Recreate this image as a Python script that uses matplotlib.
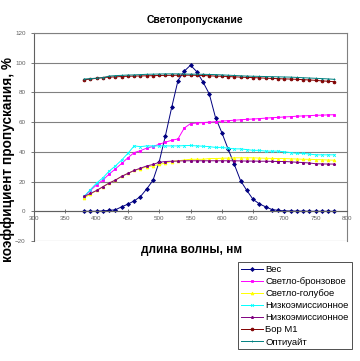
import numpy as np
import matplotlib
matplotlib.use("Agg")
import matplotlib.pyplot as plt

plt.rcParams['font.family'] = ['Liberation Sans', 'DejaVu Sans']

# длины волн
wl = np.arange(380, 790, 10)

ves = [0, 0, 0, 0.3, 0.6, 1, 3, 4.8, 7, 9.9, 15, 20.8, 33.3, 51, 70, 88, 94.3, 98.3, 94, 87,
       79, 63, 53, 42, 31.5, 20.6, 14, 8, 5, 3, 1.2, 0.6, 0.3, 0.2, 0.1, 0.1, 0, 0, 0, 0, 0]
bronze = [9.9, 14, 17.8, 21, 25, 28.5, 32.2, 36, 39.5, 40.8, 42.5, 43.6, 45.1, 46.5, 47.8, 48.7, 56, 59,
          59.4, 59.7, 60, 60.3, 60.7, 61, 61.3, 61.6, 61.9, 62.1, 62.4, 62.7, 63, 63.2, 63.5, 63.7, 64,
          64.2, 64.4, 64.6, 64.7, 64.9, 65]
blue_light = [9, 11.5, 14, 16.5, 19, 21, 23.5, 25.5, 27.5, 28.5, 30, 30.5, 31.5, 32.5, 33.5, 34, 34.5, 35,
              35, 35, 35.5, 35.5, 35.7, 35.8, 36, 36, 36, 36, 35.8, 35.7, 35.6, 35.5, 35.5, 35.3, 35.2,
              35, 35, 34.8, 34.7, 34.5, 34.4]
lowe1 = [10, 14.5, 19, 22.5, 27, 30.5, 34.5, 39, 44, 43.5, 44, 44, 44, 44, 44, 44, 44.2, 44.3,
         44, 43.8, 43.5, 43, 43, 42.5, 42, 42, 41.5, 41, 41, 40.5, 40.5, 40.5, 40, 39.5, 39, 39,
         38.5, 38, 38, 38, 38]
lowe2 = [10, 12, 14, 16.5, 19, 21, 23.5, 25.5, 27.5, 29, 30.5, 31.5, 33, 33.5, 33.7, 33.8, 34, 34,
         34, 34, 34, 34, 34, 34, 34, 33.9, 33.8, 33.8, 33.7, 33.7, 33.6, 33.5, 33.5, 33.3, 33, 32.8,
         32.5, 32, 31.9, 31.8, 31.8]
bor = [88.5, 89, 89.5, 90, 90.3, 90.5, 90.7, 90.9, 91, 91.1, 91.2, 91.3, 91.4, 91.5, 91.5, 91.6, 91.6,
       91.6, 91.5, 91.4, 91.2, 91, 90.9, 90.7, 90.5, 90.3, 90.1, 90, 89.8, 89.6, 89.4, 89.3, 89.1,
       89, 88.8, 88.6, 88.4, 88.1, 87.8, 87.5, 87.2]
optiwhite = [89, 89.3, 89.6, 90, 91, 91.3, 91.5, 91.7, 91.8, 92, 92.2, 92.3, 92.4, 92.5, 92.5, 92.5, 92.4,
             92.3, 92.3, 92.2, 92.1, 92, 91.8, 91.6, 91.4, 91.2, 91, 90.9, 90.8, 90.7, 90.6, 90.5,
             90.4, 90.3, 90.1, 89.9, 89.7, 89.5, 89.3, 89.1, 88.8]

names = ["Вес", "Светло-бронзовое", "Светло-голубое", "Низкоэмиссионное",
         "Низкоэмиссионное", "Бор М1", "Оптиуайт"]
series = [ves, bronze, blue_light, lowe1, lowe2, bor, optiwhite]
colors = ["#000080", "#FF00FF", "#FFFF00", "#00FFFF", "#800080", "#800000", "#008080"]
markers = ["D", "s", "^", "x", "*", "o", "+"]

fig = plt.figure(figsize=(3.6, 3.61), dpi=100)
ax = fig.add_axes([34/360, 1-241/361, 313/360, 208/361])

for y, name, c, m in zip(series, names, colors, markers):
    ax.plot(wl, y, color=c, lw=0.7, marker=m, markersize=2, markeredgewidth=0.6, label=name)

ax.set_xlim(300, 800)
ax.set_ylim(-20, 120)
ax.set_xticks(np.arange(300, 801, 50))
ax.set_yticks(np.arange(-20, 121, 20))
ax.grid(axis='y', color='#808080', lw=0.8)
ax.set_axisbelow(True)

for s in ['top', 'right']:
    ax.spines[s].set_color('#808080')
ax.spines['left'].set_color('#606060')
ax.spines['bottom'].set_position(('data', 0))
ax.spines['bottom'].set_color('#606060')
ax.tick_params(axis='both', labelsize=4.5, labelcolor='#606060', color='#606060', length=2.5, width=0.6)
ax.tick_params(axis='x', direction='inout', pad=2)

fig.text(195/360, 1-20/361, "Светопропускание", fontsize=7.5, fontweight='bold', ha='center', va='center')
fig.text(8/360, 1-160/361, "коэффициент пропускания, %", fontsize=9.8, fontweight='bold',
         rotation=90, ha='center', va='center')
fig.text(192/360, 1-250/361, "длина волны, нм", fontsize=8.5, fontweight='bold', ha='center', va='center')

leg = fig.legend(loc='upper left', bbox_to_anchor=(238/360, 1-262/361), fontsize=6.8,
                 frameon=True, fancybox=False, edgecolor='black', handlelength=2.3,
                 handletextpad=0.3, borderpad=0.3, labelspacing=0.33, borderaxespad=0)
leg.get_frame().set_linewidth(0.6)

fig.savefig("out.png", dpi=100)
